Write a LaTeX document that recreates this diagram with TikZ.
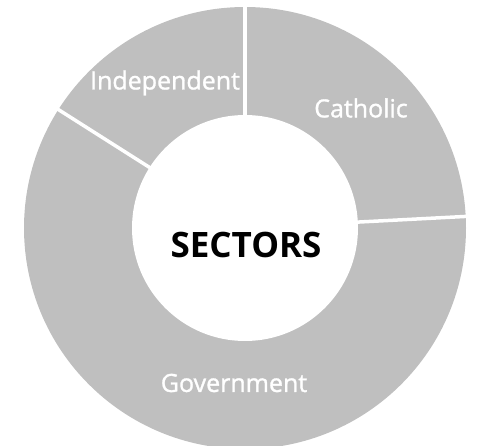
\documentclass[tikz,border=0pt]{standalone}
\usepackage{fontspec}
\setmainfont{Open Sans}
\newfontfamily\slicefont[FakeBold=1.2]{Open Sans}
\definecolor{sectorgray}{HTML}{BFBFBF}

\begin{document}
\begin{tikzpicture}[x=1pt, y=1pt]
\tikzstyle{ring}=[fill=sectorgray]
\tikzstyle{hole}=[fill=white]
\tikzstyle{sepline}=[draw=white, line width=3.5pt]
\tikzstyle{slicelabel}=[text=white, font=\slicefont\fontsize{25}{28}\selectfont, inner sep=0pt]
\tikzstyle{centerlabel}=[text=black, font=\fontsize{35}{40}\selectfont\bfseries, inner sep=0pt]

\useasboundingbox (0,0) rectangle (477,445);
\clip (0,0) rectangle (477,445);
\coordinate (C) at (245,217);
\fill[ring] (C) circle (221);
\draw[sepline] (C) -- ++(90:226);
\draw[sepline] (C) -- ++(3:226);
\draw[sepline] (C) -- ++(147.6:226);
\fill[hole] (C) circle (113);
\node[centerlabel] (Sectors) at (246,200) {SECTORS};
\node[slicelabel] (Catholic) at (361,337) {Catholic};
\node[slicelabel] (Independent) at (165,362) {Independent};
\node[slicelabel] (Government) at (234,62) {Government};
\end{tikzpicture}
\end{document}
